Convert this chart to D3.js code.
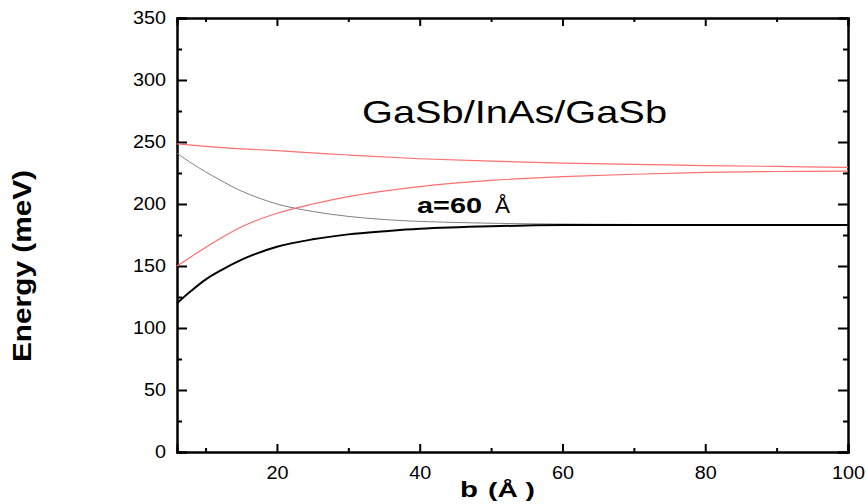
<!DOCTYPE html>
<html>
<head>
<meta charset="utf-8">
<script src="https://cdnjs.cloudflare.com/ajax/libs/d3/7.8.5/d3.min.js"></script>
<style>
  body { margin: 0; background: #fff; }
  text { font-family: Arial, "Liberation Sans", sans-serif; }
</style>
</head>
<body>
<div id="vis"></div>
<script>
// values (b in Angstrom, energy in meV)
var upperRed = [[6,248.5],[10,246.5],[15,244.5],[20,243],[30,239.5],[40,236.5],[50,234.5],[60,233],[70,232],[80,231],[90,230.3],[100,229.6]];
var lowerRed = [[6,150],[8,157.5],[10,165],[12,172],[15,181.5],[20,192.5],[25,200],[30,206],[40,214],[50,219],[60,222],[70,224],[80,225.5],[90,226.2],[100,226.5]];
var grayLine = [[6,241],[8,233],[10,226],[12,219.5],[15,210.5],[20,200],[25,194],[30,190],[35,187.5],[40,186],[50,184.5],[60,183.8],[80,183.3],[100,183]];
var blackLine = [[6,120],[8,130],[10,139],[12,146],[15,155],[20,165.5],[25,171.5],[30,175.5],[35,178],[40,180],[50,182],[60,183],[80,183],[100,183]];

var xMajor = [20, 40, 60, 80, 100];
var xMinor = [10, 30, 50, 70, 90];
var yMajor = [0, 50, 100, 150, 200, 250, 300, 350];
var yMinor = [25, 75, 125, 175, 225, 275, 325];

var width = 867, height = 504;
var margin = {top: 18, right: 19, bottom: 52, left: 177};

var svg = d3.select("#vis").append("svg")
    .attr("width", width)
    .attr("height", height);

var x = d3.scaleLinear().domain([6, 100]).range([margin.left, width - margin.right]);
var y = d3.scaleLinear().domain([0, 350]).range([height - margin.bottom, margin.top]);

////////// axes //////////

function noLabels(a) { return a.tickFormat(""); }

// bottom
svg.append("g").attr("class", "axis")
    .attr("transform", "translate(0," + y(0) + ")")
    .call(d3.axisBottom(x).tickValues(xMajor).tickSize(-8).tickPadding(15).tickFormat(d3.format("d")));
svg.append("g").attr("class", "axis")
    .attr("transform", "translate(0," + y(0) + ")")
    .call(noLabels(d3.axisBottom(x).tickValues(xMinor).tickSize(-4)));
// top
svg.append("g").attr("class", "axis")
    .attr("transform", "translate(0," + y(350) + ")")
    .call(noLabels(d3.axisTop(x).tickValues(xMajor).tickSize(-8)));
svg.append("g").attr("class", "axis")
    .attr("transform", "translate(0," + y(350) + ")")
    .call(noLabels(d3.axisTop(x).tickValues(xMinor).tickSize(-4)));
// left
svg.append("g").attr("class", "axis")
    .attr("transform", "translate(" + x(6) + ",0)")
    .call(d3.axisLeft(y).tickValues(yMajor).tickSize(-10).tickPadding(11).tickFormat(d3.format("d")));
svg.append("g").attr("class", "axis")
    .attr("transform", "translate(" + x(6) + ",0)")
    .call(noLabels(d3.axisLeft(y).tickValues(yMinor).tickSize(-5)));
// right
svg.append("g").attr("class", "axis")
    .attr("transform", "translate(" + x(100) + ",0)")
    .call(noLabels(d3.axisRight(y).tickValues(yMajor).tickSize(-10)));
svg.append("g").attr("class", "axis")
    .attr("transform", "translate(" + x(100) + ",0)")
    .call(noLabels(d3.axisRight(y).tickValues(yMinor).tickSize(-5)));

svg.selectAll(".axis path").attr("stroke", "#000").attr("stroke-width", 2);
svg.selectAll(".axis line").attr("stroke", "#000").attr("stroke-width", 2);
svg.selectAll(".axis text")
    .attr("font-size", 17.5).attr("fill", "#000")
    .attr("font-family", "Arial, 'Liberation Sans', sans-serif")
    .attr("lengthAdjust", "spacingAndGlyphs")
    .attr("textLength", function() { return this.textContent.length * 11; });

////////// curves //////////

var line = d3.line()
    .x(function(d) { return x(d[0]); })
    .y(function(d) { return y(d[1]); })
    .curve(d3.curveCatmullRom.alpha(0.5));

var plot = svg.append("g");
plot.append("path").datum(grayLine).attr("d", line)
    .attr("fill", "none").attr("stroke", "#808080").attr("stroke-width", 1);
plot.append("path").datum(upperRed).attr("d", line)
    .attr("fill", "none").attr("stroke", "#ff6f6f").attr("stroke-width", 1.2);
plot.append("path").datum(lowerRed).attr("d", line)
    .attr("fill", "none").attr("stroke", "#ff6f6f").attr("stroke-width", 1.2);
plot.append("path").datum(blackLine).attr("d", line)
    .attr("fill", "none").attr("stroke", "#000").attr("stroke-width", 2);

////////// labels //////////

svg.append("text")
    .attr("x", 362).attr("y", 123)
    .attr("font-size", 32)
    .attr("textLength", 305).attr("lengthAdjust", "spacingAndGlyphs")
    .text("GaSb/InAs/GaSb");

svg.append("text")
    .attr("x", 417).attr("y", 213)
    .attr("font-size", 22).attr("font-weight", "bold")
    .attr("textLength", 65).attr("lengthAdjust", "spacingAndGlyphs")
    .text("a=60");
svg.append("text")
    .attr("x", 495).attr("y", 213)
    .attr("font-size", 22)
    .attr("textLength", 15).attr("lengthAdjust", "spacingAndGlyphs")
    .text("Å");

svg.append("text")
    .attr("x", 460).attr("y", 497)
    .attr("font-size", 22).attr("font-weight", "bold")
    .attr("textLength", 18).attr("lengthAdjust", "spacingAndGlyphs")
    .text("b");
svg.append("text")
    .attr("x", 488).attr("y", 497)
    .attr("font-size", 21).attr("font-weight", "bold")
    .attr("textLength", 47).attr("lengthAdjust", "spacingAndGlyphs")
    .text("(Å )");

svg.append("text")
    .attr("transform", "translate(31,266) rotate(-90)")
    .attr("text-anchor", "middle")
    .attr("font-weight", "bold")
    .attr("font-size", 26)
    .attr("textLength", 192).attr("lengthAdjust", "spacingAndGlyphs")
    .text("Energy (meV)");
</script>
</body>
</html>
